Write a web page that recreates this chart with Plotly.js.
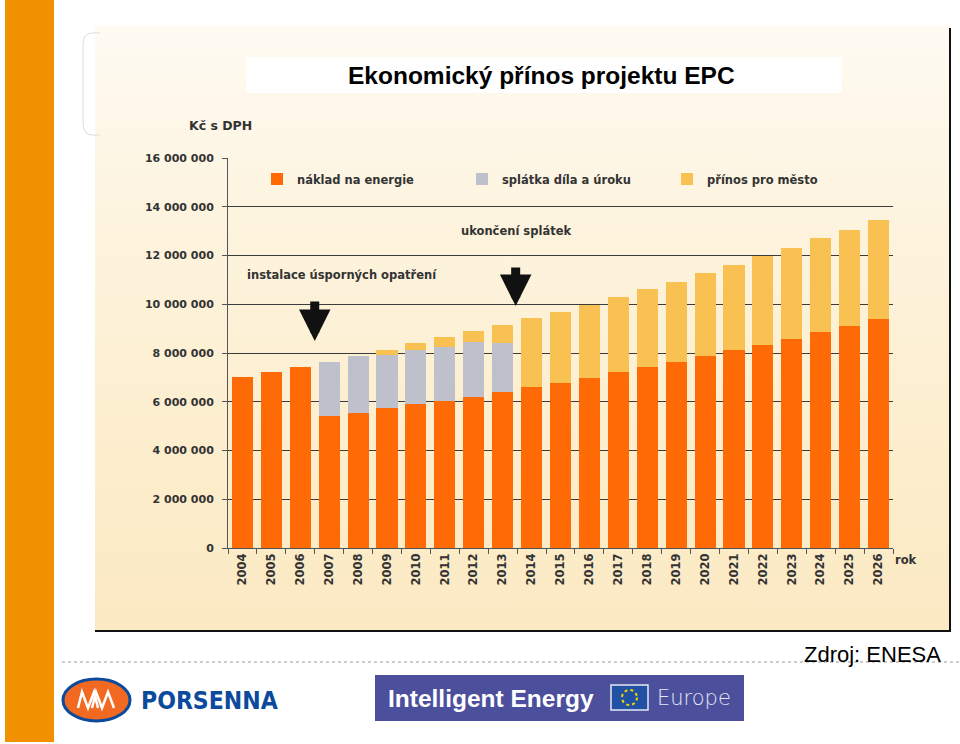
<!DOCTYPE html>
<html>
<head>
<meta charset="utf-8">
<script src="https://cdn.plot.ly/plotly-3.0.1.min.js"></script>
<style>
  html, body { margin:0; padding:0; background:#ffffff; width:960px; height:744px; overflow:hidden; }
  #bg { position:absolute; left:95px; top:25px; width:855px; height:606px;
        background: linear-gradient(180deg, #fffbf3 0%, #fdf3dd 35%, #fcedcb 75%, #fbe9c3 100%); }
  #chart { position:absolute; left:0; top:0; width:960px; height:744px; }
</style>
</head>
<body>
<div id="bg"></div>
<div id="chart"></div>
<script>
// ---- data (Kč s DPH) ----
const years = ["2004","2005","2006","2007","2008","2009","2010","2011","2012","2013","2014","2015",
               "2016","2017","2018","2019","2020","2021","2022","2023","2024","2025","2026"];
const energyCost = [7000000,7210000,7440000,5420000,5550000,5730000,5900000,6040000,6210000,6410000,6620000,6780000,
                    6990000,7210000,7410000,7640000,7880000,8110000,8330000,8590000,8860000,9120000,9390000];
const repayment  = [0,0,0,2220000,2330000,2190000,2220000,2220000,2250000,1990000,0,0,
                    0,0,0,0,0,0,0,0,0,0,0];
const cityBenefit = [0,0,0,0,0,200000,280000,410000,440000,750000,2830000,2910000,
                     2980000,3090000,3200000,3290000,3390000,3500000,3650000,3730000,3850000,3930000,4070000];
const seriesNames = ["náklad na energie", "splátka díla a úroku", "přínos pro město"];
const titleText = "Ekonomický přínos projektu EPC";
const yUnitText = "Kč s DPH";
const xUnitText = "rok";
const note1 = "instalace úsporných opatření";
const note2 = "ukončení splátek";
const sourceText = "Zdroj: ENESA";

// ---- pixel helpers (plot area: x 228..893, y 158..548) ----
const L = 228, R = 893, T = 158, B = 548;
const px = v => (v - L) / (R - L);
const py = v => (B - v) / (B - T);

const bold = {family: "DejaVu Sans", size: 11, color: "#333333", weight: "bold"};

const traces = [
  {type:"bar", x:years, y:energyCost, name:seriesNames[0], marker:{color:"#fd6a06"}, hoverinfo:"y"},
  {type:"bar", x:years, y:repayment, name:seriesNames[1], marker:{color:"#bec1cb"}, hoverinfo:"y"},
  {type:"bar", x:years, y:cityBenefit, name:seriesNames[2], marker:{color:"#f9c052"}, hoverinfo:"y"}
];

function rect(x0,y0,x1,y1,fill,line,extra){
  return Object.assign({type:"rect", xref:"paper", yref:"paper", x0:px(x0), x1:px(x1), y0:py(y1), y1:py(y0),
    fillcolor:fill, line:line||{width:0}, layer:"below"}, extra||{});
}
function lineS(x0,y0,x1,y1,line){
  return {type:"line", xref:"paper", yref:"paper", x0:px(x0), x1:px(x1), y0:py(y0), y1:py(y1), line:line, layer:"below"};
}
function pathS(pts, line, fill){
  const d = pts.map((p,i)=>(i? "L":"M") + px(p[0]).toFixed(5) + "," + py(p[1]).toFixed(5)).join(" ");
  return {type:"path", xref:"paper", yref:"paper", path:d, line:line, fillcolor:fill||"rgba(0,0,0,0)", layer:"above"};
}

const shapes = [
  rect(5,0,54,742,"#f29100"),
  rect(246,57,842,93,"#ffffff"),
  {type:"path", xref:"paper", yref:"paper", layer:"below", line:{color:"#dcdcdc", width:1},
   path:"M"+px(100)+","+py(33)+" L"+px(92)+","+py(33)+" Q"+px(83)+","+py(33)+" "+px(83)+","+py(45)+
        " L"+px(83)+","+py(122)+" Q"+px(83)+","+py(135)+" "+px(92)+","+py(135)+" L"+px(100)+","+py(135)},
  lineS(950,28,950,632,{color:"#111111", width:2}),
  lineS(95,631,951,631,{color:"#111111", width:2}),
  lineS(62,662,960,662,{color:"#9a9a9a", width:1, dash:"dot"}),
  {type:"circle", xref:"paper", yref:"paper", x0:px(63), x1:px(130), y0:py(721), y1:py(679),
   fillcolor:"#f26a21", line:{color:"#0b4a9c", width:3}, layer:"above"},
  pathS([[78,708],[82,692],[88,708],[94,692],[98,708]], {color:"#ffffff", width:2.5}),
  pathS([[92,708],[96,692],[102,708],[108,692],[114,708]], {color:"#ffffff", width:2.5}),
  rect(375,675,744,721,"#4b4f9c",null,{layer:"above"}),
  rect(611,685,648,710,"#2251a3",{color:"#e6e9f5", width:1.5},{layer:"above"}),
  {type:"circle", xref:"paper", yref:"paper", x0:px(622), x1:px(637), y0:py(705), y1:py(690),
   fillcolor:"rgba(0,0,0,0)", line:{color:"#f5d400", width:2, dash:"dot"}, layer:"above"}
];

function ann(text, x, y, font, xanchor, extra){
  return Object.assign({text:text, xref:"paper", yref:"paper", x:px(x), y:py(y), showarrow:false,
    xanchor:xanchor||"left", yanchor:"middle", font:font}, extra||{});
}

const annotations = [
  ann(titleText, 541, 75, {family:"Liberation Sans, Arial", size:24.5, color:"#000000", weight:"bold"}, "center"),
  ann(yUnitText, 220, 125, {family:"DejaVu Sans", size:12.5, color:"#333333", weight:"bold"}, "center"),
  ann(note1, 245, 275, Object.assign({}, bold, {size:11.5}), "left"),
  ann(note2, 459, 231, Object.assign({}, bold, {size:11.5}), "left"),
  ann(xUnitText, 893, 560, Object.assign({}, bold, {size:11.5}), "left"),
  ann(sourceText, 943, 654, {family:"Liberation Sans, Arial", size:22, color:"#000000"}, "right"),
  ann("PORSENNA", 139, 700, {family:"DejaVu Sans Condensed, Liberation Sans Narrow, Liberation Sans", size:24.5, color:"#0b4a9c", weight:"bold"}, "left"),
  ann("Intelligent Energy", 386, 698, {family:"Liberation Sans, Arial", size:24.5, color:"#ffffff", weight:"bold"}, "left"),
  ann("Europe", 655, 698, {family:"DejaVu Sans, Liberation Sans", size:21, color:"#e4e6f4", weight:200}, "left"),
  // arrows
  {xref:"x", yref:"y", x:2.5, y:(B-341)/(B-T)*16000000, text:"", showarrow:true, ax:0, ay:-41,
   arrowcolor:"#111111", arrowwidth:9, arrowhead:2, arrowsize:0.7, standoff:0},
  {xref:"x", yref:"y", x:9.45, y:(B-306)/(B-T)*16000000, text:"", showarrow:true, ax:0, ay:-40,
   arrowcolor:"#111111", arrowwidth:9, arrowhead:2, arrowsize:0.7, standoff:0}
];

const layout = {
  width:960, height:744,
  margin:{l:L, r:960-R, t:T, b:744-B, pad:0},
  paper_bgcolor:"rgba(0,0,0,0)", plot_bgcolor:"rgba(0,0,0,0)",
  barmode:"stack", bargap:0.27,
  separators:", ",
  showlegend:true,
  legend:{orientation:"h", x:px(257), y:py(179), xanchor:"left", yanchor:"middle",
          font:Object.assign({}, bold, {size:11.5}), bgcolor:"rgba(0,0,0,0)", traceorder:"normal",
          entrywidth:160, entrywidthmode:"pixels", itemwidth:30},
  xaxis:{type:"category", tickangle:-90, tickfont:Object.assign({}, bold, {size:11.5}), ticks:"outside", tickson:"boundaries",
         ticklen:5, tickcolor:"#555555", showline:true, linecolor:"#555555", linewidth:1,
         showgrid:false, fixedrange:true},
  yaxis:{range:[0,16000000], dtick:2000000, tick0:0, tickformat:",d", tickfont:bold,
         ticks:"outside", ticklen:5, tickcolor:"#555555", showline:true, linecolor:"#555555", linewidth:1,
         showgrid:true, gridcolor:"#3c3c3c", gridwidth:1, zeroline:false, ticklabelstandoff:6, fixedrange:true},
  shapes:shapes,
  annotations:annotations
};

Plotly.newPlot("chart", traces, layout, {displayModeBar:false, staticPlot:true});
</script>
</body>
</html>
